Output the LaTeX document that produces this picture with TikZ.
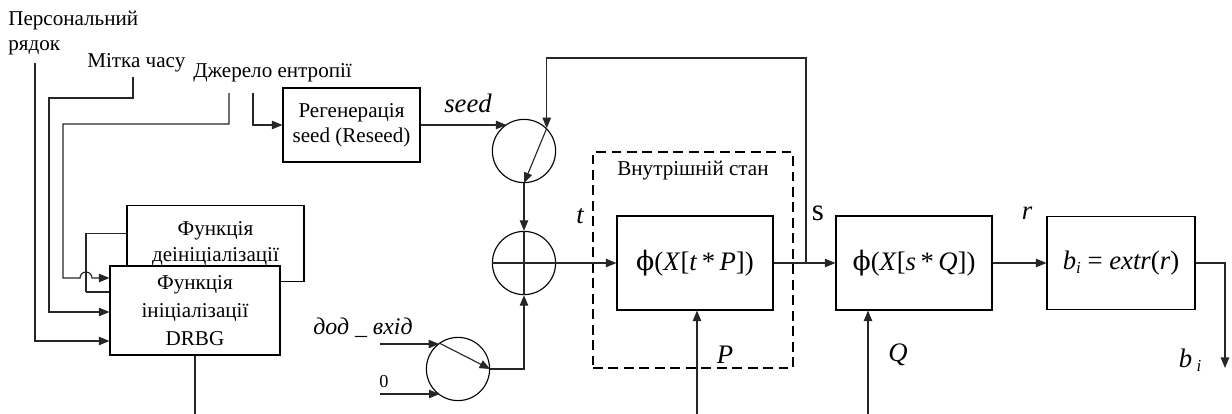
\documentclass[tikz,border=0pt]{standalone}
\usepackage{fontspec}
\setmainfont{Liberation Serif}
\newfontfamily\grkfont{DejaVu Serif}
\usetikzlibrary{positioning, arrows.meta, calc}
\newcommand{\phisym}{{\grkfont ϕ}}
\newcommand{\subi}{\raisebox{-0.35ex}{\fontsize{12}{12}\selectfont\textit{i}}}
\tikzset{
    blk/.style={rectangle, draw=black, fill=white, align=center, inner sep=2pt, line width=0.8pt, font=\fontsize{15}{18}\selectfont},
    sw/.style={circle, draw=black, fill=white, minimum size=1.58cm, inner sep=0pt, line width=0.8pt},
    ln/.style={line width=0.8pt, draw=black!85},
    arr/.style={ln, -{Triangle[length=7.5pt, width=6pt]}},
    lbl/.style={font=\fontsize{15}{18}\selectfont, inner sep=0pt},
    var/.style={font=\fontsize{19}{21}\selectfont\itshape, inner sep=0pt},
    mathbox/.style={blk, font=\fontsize{19}{21}\selectfont}
}

\begin{document}
\begin{tikzpicture}[x=0.025cm, y=-0.025cm]
    \useasboundingbox (0,0) rectangle (1232,414);

    % input labels
    \node[lbl, anchor=west, align=left] (pers) at (8,33) {Персональний\\рядок};
    \node[lbl, anchor=west] (ltime) at (87,63) {Мітка часу};
    \node[lbl, anchor=west] (lent) at (193,73) {Джерело ентропії};

    \coordinate (p0) at (35,63);
    \coordinate (t0) at (133,77);
    \coordinate (e0) at (229,93);
    \coordinate (e1) at (253,93);

    % init blocks
    \node[blk, minimum width=4.425cm, minimum height=1.9cm, inner sep=4pt, anchor=north] (deinit) at (215.5,205) {Функція\\деініціалізації};
    \draw[ln] ([yshift=0.25cm]deinit.west) -| (86,292) coordinate (dfb);
    \node[blk, minimum width=4.25cm, minimum height=2.225cm, font=\fontsize{15}{20}\selectfont] (init) at (195,310.5) {Функція\\ініціалізації\\DRBG};
    \draw[ln] (dfb) -- (dfb -| init.west);

    \coordinate (pin) at (35,341);
    \coordinate (tin) at (49,312);
    \coordinate (ein) at (63,278);
    \coordinate (hop) at (86,278);
    \draw[arr] (p0) -- (pin) -- (pin -| init.west);
    \draw[arr] (t0) |- (49,98) |- (tin -| init.west);
    \draw[arr] (e0) |- (63,124) -- (ein) -- ([xshift=-0.15cm]hop) arc[start angle=180, end angle=0, radius=0.15cm] -- (ein -| init.west);
    \coordinate (ibot) at (195,414);
    \draw[ln] (init.south) -- (ibot);

    % reseed
    \node[blk, minimum width=3.425cm, minimum height=1.85cm] (reseed) at (351.5,125) {Регенерація\\seed (Reseed)};
    \draw[arr] (e1) |- (reseed.west);

    % switches and xor
    \node[sw] (sw1) at (524,151) {};
    \node[sw] (xor) at (524,263) {};
    \node[sw] (sw2) at (458,369) {};
    \node[var] (lseed) at (468,103) {seed};
    \draw[arr] (reseed.east) -- (reseed.east -| sw1.123);
    \draw[arr] (sw1.45) -- (sw1.south);
    \draw[arr] (sw1.south) -- (xor.north);
    \draw[ln] (xor.north) -- (xor.south);
    \draw[ln] (xor.west) -- (xor.east);

    \node[font=\fontsize{17}{19}\selectfont\itshape, inner sep=0pt] (ladd) at (363,328) {дод \_ вхід};
    \node[font=\fontsize{13}{15}\selectfont, inner sep=0pt] (lzero) at (384,382) {0};
    \coordinate (ain) at (380,344);
    \coordinate (zin) at (380,394);
    \draw[arr] (ain) -- (ain -| sw2.126);
    \draw[arr] (zin) -- (zin -| sw2.235);
    \draw[arr] (sw2.126) -- (sw2.east);
    \draw[arr] (sw2.east) -| (xor.south);

    % internal state
    \node[draw, dashed, dash pattern=on 7pt off 4pt, line width=0.8pt, minimum width=5cm, minimum height=5.4cm] (state) at (693,260) {};
    \node[lbl] (lstate) at (693,171) {Внутрішній стан};
    \node[mathbox, minimum width=3.9cm, minimum height=2.35cm] (phiP) at (695,263) {\phisym(\textit{X}[\textit{t}\,*\,\textit{P}])};
    \node[var] (lt) at (580,216) {t};
    \node[var] (lP) at (725,355) {P};
    \draw[arr] (xor.east) -- (phiP.west);
    \coordinate (pbot) at (697,414);
    \draw[arr] (pbot) -- (pbot |- phiP.south);

    % output stage
    \node[mathbox, minimum width=3.9cm, minimum height=2.35cm] (phiQ) at (914,263) {\phisym(\textit{X}[\textit{s}\,*\,\textit{Q}])};
    \node[mathbox, minimum width=3.7cm, minimum height=2.325cm] (extr) at (1121,263) {\textit{b}\subi\ = \textit{extr}(\textit{r})};
    \node[font=\fontsize{22}{24}\selectfont, inner sep=0pt] (ls) at (818,213) {s};
    \node[var] (lr) at (1027,213) {r};
    \node[var] (lQ) at (898,355) {Q};
    \node[var] (lb) at (1190,360) {b\,\subi};

    \coordinate (tap) at (806,263);
    \draw[arr] (phiP.east) -- (phiQ.west);
    \draw[arr] (tap) -- (806,58) -| (sw1.45);
    \draw[arr] (phiQ.east) -- (extr.west);
    \coordinate (qbot) at (868,414);
    \draw[arr] (qbot) -- (qbot |- phiQ.south);
    \coordinate (bout) at (1225,368);
    \draw[arr] (extr.east) -| (bout);
\end{tikzpicture}
\end{document}
